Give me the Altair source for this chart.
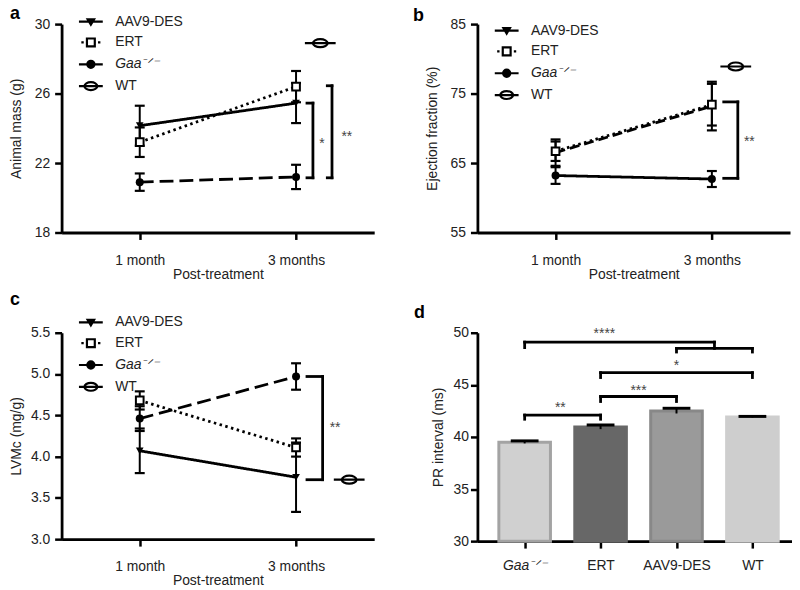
import altair as alt
import pandas as pd

FONT = "Liberation Sans"
TXT = "#222222"
GAA = "Gaa\u207b\u141f\u207b"

# ---------------- shared categories ----------------
time_pos = [1, 2]
time_labels = ["1 month", "3 months"]
groups = ["AAV9-DES", "ERT", GAA, "WT"]

# ---------------- panel a: animal mass ----------------
a_aav9 = [24.15, 25.45]
a_aav9_err = [1.15, 1.15]
a_ert = [23.2, 26.4]
a_ert_err = [0.85, 0.9]
a_gaa = [20.9, 21.2]
a_gaa_err = [0.5, 0.7]
a_wt = [28.9]
a_wt_x = [2.155]
a_br_x0 = [2.07, 2.2]
a_br_x1 = [2.108, 2.23]
a_br_top = [25.45, 26.45]
a_br_bot = [21.15, 21.15]
a_star = ["*", "**"]
a_star_x = [2.165, 2.325]
a_star_y = [23.07, 23.47]

# ---------------- panel b: ejection fraction ----------------
b_aav9 = [66.5, 73.2]
b_aav9_err = [1.9, 3.5]
b_ert = [66.7, 73.4]
b_ert_err = [1.4, 3.0]
b_gaa = [63.2, 62.7]
b_gaa_err = [1.2, 1.15]
b_wt = [78.9]
b_wt_x = [2.153]
b_br_x0 = [2.076]
b_br_x1 = [2.166]
b_br_top = [73.8]
b_br_bot = [62.8]
b_star = ["**"]
b_star_x = [2.24]
b_star_y = [68.03]

# ---------------- panel c: LVMc ----------------
c_aav9 = [4.07, 3.75]
c_aav9_err = [0.27, 0.42]
c_ert = [4.68, 4.11]
c_ert_err = [0.11, 0.11]
c_gaa = [4.46, 4.97]
c_gaa_err = [0.15, 0.16]
c_wt = [3.72]
c_wt_x = [2.34]
c_br_x0 = [2.07]
c_br_x1 = [2.17]
c_br_top = [4.97]
c_br_bot = [3.72]
c_star = ["**"]
c_star_x = [2.25]
c_star_y = [4.34]

# ---------------- panel d: PR interval ----------------
d_cats = [GAA, "ERT", "AAV9-DES", "WT"]
d_pos = [1, 2, 3, 4]
d_vals = [39.5, 40.95, 42.5, 41.92]
d_err = [0.12, 0.2, 0.25, 0.05]
d_fill = ["#d0d0d0", "#676767", "#9a9a9a", "#cecece"]
d_stroke = ["#a3a3a3", "#676767", "#888888", "#cecece"]
d_br_xa = [1, 2, 2, 1, 3]
d_br_xb = [2, 3, 4, 3.5, 4]
d_br_y = [42.1, 43.88, 46.17, 49.1, 48.5]
d_br_lo_left = [41.7, 43.4, 45.7, 48.57, 48.15]
d_br_lo_right = [41.7, 43.4, 45.7, 48.5, 48.15]
d_star = ["**", "***", "*", "****"]
d_star_x = [1.47, 2.5, 3, 2.05]
d_star_y = [42.75, 44.45, 46.85, 49.85]

# ---------------- symbols ----------------
LEG_PATHS = [
    "M-1,0H1M-0.27,-0.2H0.27L0,0.25Z",
    "M-0.8,0H-0.6M0.6,0H0.8M-0.33,-0.33H0.33V0.33H-0.33Z",
    "M-1,0H1M0.3,0A0.3,0.3,0,1,1,-0.3,0A0.3,0.3,0,1,1,0.3,0Z",
    "M-1,0H1M0.54,0A0.54,0.33,0,1,1,-0.54,0A0.54,0.33,0,1,1,0.54,0Z",
]
LEG_FILLS = ["black", "white", "black", "white"]
WT_PATH = "M-1,0H1M0.48,0A0.48,0.26,0,1,1,-0.48,0A0.48,0.26,0,1,1,0.48,0Z"

DOT = [2.5, 3.5]
DASH = [14, 6]
DASH_B = [10, 5]


def axis_common(**kw):
    base = dict(
        domainColor="black", domainWidth=2.8, tickColor="black", tickWidth=2.5,
        tickSize=7, grid=False, labelFont=FONT, labelFontSize=14, labelColor=TXT,
        titleFont=FONT, titleFontSize=14, titleFontWeight="normal", titleColor=TXT,
    )
    base.update(kw)
    return alt.Axis(**base)


def line_panel(letter, series, dashes, wt_x, wt_y, ydom, yvals, ytitle, yfmt,
               br, stars, leg_xy, row_pad, t_offset, t_dx, height, ytx):
    rows = []
    for g in groups[:3]:
        vals, errs = series[g]
        for t, v, e in zip(time_pos, vals, errs):
            rows.append({"t": t, "g": g, "v": v, "lo": v - e, "hi": v + e})
    df = pd.DataFrame(rows)
    wt_df = pd.DataFrame({"t": wt_x, "v": wt_y})
    x0, x1, top, bot = br
    seg = []
    for a0, a1, tp, bt in zip(x0, x1, top, bot):
        seg.append({"x": a0, "x2": a1, "y": tp, "y2": tp})
        seg.append({"x": a0, "x2": a1, "y": bt, "y2": bt})
        seg.append({"x": a1, "x2": a1, "y": tp, "y2": bt})
    seg_df = pd.DataFrame(seg)
    st_df = pd.DataFrame({"s": stars[0], "x": stars[1], "y": stars[2]})

    lab_expr = "datum.value == %d ? '%s' : '%s'" % (time_pos[0], time_labels[0], time_labels[1])
    xs = alt.Scale(domain=[0.5, 2.5], nice=False, zero=False)
    ys = alt.Scale(domain=ydom, nice=False, zero=False)
    X = alt.X("t:Q", scale=xs, axis=axis_common(values=time_pos, labelExpr=lab_expr,
                                               title="Post-treatment", labelPadding=14,
                                               titleY=42, titleBaseline="middle"))
    Y = alt.Y("v:Q", scale=ys, axis=axis_common(values=yvals, format=yfmt, title=ytitle,
                                               labelPadding=5, titleX=ytx, titleBaseline="middle"))

    layers = []
    for g in groups[:3]:
        layers.append(alt.Chart(df).transform_filter(alt.datum.g == g)
                      .mark_line(color="black", strokeWidth=2.8, strokeDash=dashes[g])
                      .encode(x=X, y=Y))
    base = alt.Chart(df)
    layers.append(base.mark_rule(color="black", strokeWidth=2)
                  .encode(x="t:Q", y="lo:Q", y2="hi:Q"))
    layers.append(base.mark_tick(orient="horizontal", size=10, thickness=2.2, color="black", opacity=1)
                  .encode(x="t:Q", y="lo:Q"))
    layers.append(base.mark_tick(orient="horizontal", size=10, thickness=2.2, color="black", opacity=1)
                  .encode(x="t:Q", y="hi:Q"))
    layers.append(base.transform_filter(alt.datum.g == groups[0])
                  .mark_point(shape="triangle-down", filled=True, color="black", size=60, opacity=1)
                  .encode(x="t:Q", y="v:Q"))
    layers.append(base.transform_filter(alt.datum.g == groups[1])
                  .mark_point(shape="square", filled=True, fill="white", stroke="black",
                              strokeWidth=2, size=60, opacity=1)
                  .encode(x="t:Q", y="v:Q"))
    layers.append(base.transform_filter(alt.datum.g == groups[2])
                  .mark_point(shape="circle", filled=True, color="black", size=65, opacity=1)
                  .encode(x="t:Q", y="v:Q"))
    layers.append(alt.Chart(wt_df)
                  .mark_point(shape=WT_PATH, filled=True, fill="white", stroke="black",
                              strokeWidth=2.2, size=961, opacity=1)
                  .encode(x="t:Q", y="v:Q"))
    layers.append(alt.Chart(seg_df).mark_rule(color="black", strokeWidth=2.8, strokeCap="square")
                  .encode(x="x:Q", x2="x2:Q", y="y:Q", y2="y2:Q"))
    layers.append(alt.Chart(st_df).mark_text(font=FONT, fontSize=14, color="#444444", baseline="middle")
                  .encode(x="x:Q", y="y:Q", text="s:N"))

    leg = alt.Legend(orient="none", legendX=leg_xy[0], legendY=leg_xy[1], title=None,
                     padding=0, rowPadding=row_pad, labelOffset=11, symbolSize=576,
                     symbolStrokeWidth=2.2, symbolStrokeColor="black",
                     labelFont=FONT, labelFontSize=14, labelColor=TXT, labelLimit=200,
                     labelFontStyle={"expr": "datum.value === '%s' ? 'italic' : 'normal'" % GAA})
    leg_df = pd.DataFrame({"g": pd.Series([], dtype=str)})
    layers.append(alt.Chart(leg_df)
                  .mark_point(filled=True, size=576, strokeWidth=2.2, opacity=1)
                  .encode(shape=alt.Shape("g:N", scale=alt.Scale(domain=groups, range=LEG_PATHS), legend=leg),
                          fill=alt.Fill("g:N", scale=alt.Scale(domain=groups, range=LEG_FILLS), legend=leg),
                          stroke=alt.Stroke("g:N", scale=alt.Scale(domain=groups, range=["black"] * 4),
                                            legend=leg)))

    return alt.layer(*layers).properties(
        width=315, height=height,
        title=alt.TitleParams(letter, anchor="start", fontSize=18, fontWeight="bold", font=FONT,
                              color="black", offset=t_offset, dx=t_dx),
    )


pa = line_panel("a",
                {groups[0]: (a_aav9, a_aav9_err), groups[1]: (a_ert, a_ert_err), groups[2]: (a_gaa, a_gaa_err)},
                {groups[0]: [1, 0], groups[1]: DOT, groups[2]: DASH},
                a_wt_x, a_wt, [18, 30], [18, 20, 22, 24, 26, 28, 30], "Animal mass (g)", "d",
                (a_br_x0, a_br_x1, a_br_top, a_br_bot), (a_star, a_star_x, a_star_y),
                (16, -16), -5, -15, 0, 210, -45)
pb = line_panel("b",
                {groups[0]: (b_aav9, b_aav9_err), groups[1]: (b_ert, b_ert_err), groups[2]: (b_gaa, b_gaa_err)},
                {groups[0]: DASH_B, groups[1]: DOT, groups[2]: [1, 0]},
                b_wt_x, b_wt, [55, 85], [55, 60, 65, 70, 75, 80, 85], "Ejection fraction (%)", "d",
                (b_br_x0, b_br_x1, b_br_top, b_br_bot), (b_star, b_star_x, b_star_y),
                (16, -7), -6, -8, -13, 210, -45)
pc = line_panel("c",
                {groups[0]: (c_aav9, c_aav9_err), groups[1]: (c_ert, c_ert_err), groups[2]: (c_gaa, c_gaa_err)},
                {groups[0]: [1, 0], groups[1]: DOT, groups[2]: DASH},
                c_wt_x, c_wt, [3.0, 5.5], [3.0, 3.5, 4.0, 4.5, 5.0, 5.5], "LVMc (mg/g)", ".1f",
                (c_br_x0, c_br_x1, c_br_top, c_br_bot), (c_star, c_star_x, c_star_y),
                (16, -24), -7, 0, 0, 208, -45)

# ---------------- panel d ----------------
d_df = pd.DataFrame({"x": d_pos, "cat": d_cats, "v": d_vals, "e": d_err,
                     "fill": d_fill, "stroke": d_stroke})
d_df["lo"] = d_df["v"] - d_df["e"]
d_df["hi"] = d_df["v"] + d_df["e"]
dseg = []
for xa, xb, yy, ll, lr in zip(d_br_xa, d_br_xb, d_br_y, d_br_lo_left, d_br_lo_right):
    dseg.append({"x": xa, "x2": xb, "y": yy, "y2": yy})
    dseg.append({"x": xa, "x2": xa, "y": yy, "y2": ll})
    dseg.append({"x": xb, "x2": xb, "y": yy, "y2": lr})
dseg_df = pd.DataFrame(dseg)
dst_df = pd.DataFrame({"s": d_star, "x": d_star_x, "y": d_star_y})

d_lab = " : ".join("datum.value == %d ? '%s'" % (p, c) for p, c in zip(d_pos, d_cats)) + " : ''"
dX = alt.X("x:Q", scale=alt.Scale(domain=[0.443, 4.456], nice=False, zero=False),
           axis=axis_common(values=d_pos, labelExpr=d_lab, title=None, labelPadding=11,
                            labelFontStyle={"condition": {"test": "datum.value == 1", "value": "italic"},
                                            "value": "normal"}))
dY = alt.Y("v:Q", scale=alt.Scale(domain=[30, 50], nice=False, zero=False),
           axis=axis_common(values=[30, 35, 40, 45, 50], title="PR interval (ms)", labelPadding=2,
                            titleX=-39, titleBaseline="middle"))
d_base = alt.Chart(d_df)
pd_chart = alt.layer(
    d_base.mark_bar(width=52, strokeWidth=3).encode(
        x=dX, y=dY, y2=alt.datum(30),
        fill=alt.Fill("fill:N", scale=None), stroke=alt.Stroke("stroke:N", scale=None)),
    d_base.mark_rule(color="black", strokeWidth=2).encode(x="x:Q", y="lo:Q", y2="hi:Q"),
    d_base.mark_tick(orient="horizontal", size=28, thickness=3, color="black", opacity=1)
    .encode(x="x:Q", y="hi:Q"),
    alt.Chart(dseg_df).mark_rule(color="black", strokeWidth=2.8, strokeCap="square")
    .encode(x="x:Q", x2="x2:Q", y="y:Q", y2="y2:Q"),
    alt.Chart(dst_df).mark_text(font=FONT, fontSize=14, color="#444444", baseline="middle")
    .encode(x="x:Q", y="y:Q", text="s:N"),
).properties(width=317, height=210,
             title=alt.TitleParams("d", anchor="start", fontSize=18, fontWeight="bold", font=FONT,
                                   color="black", offset=4, dx=-18))

chart = (alt.concat(pa, pb, pc, pd_chart, columns=2, spacing={"row": 101, "column": 104},
                    bounds="flush")
         .resolve_scale(shape="independent", fill="independent", stroke="independent")
         .resolve_legend(shape="independent", fill="independent", stroke="independent")
         .properties(padding={"left": 2, "top": -5, "right": 0, "bottom": -1})
         .configure_view(stroke=None)
         .configure_title(font=FONT))

chart.save("out.html", embed_options={"renderer": "svg", "actions": False})
